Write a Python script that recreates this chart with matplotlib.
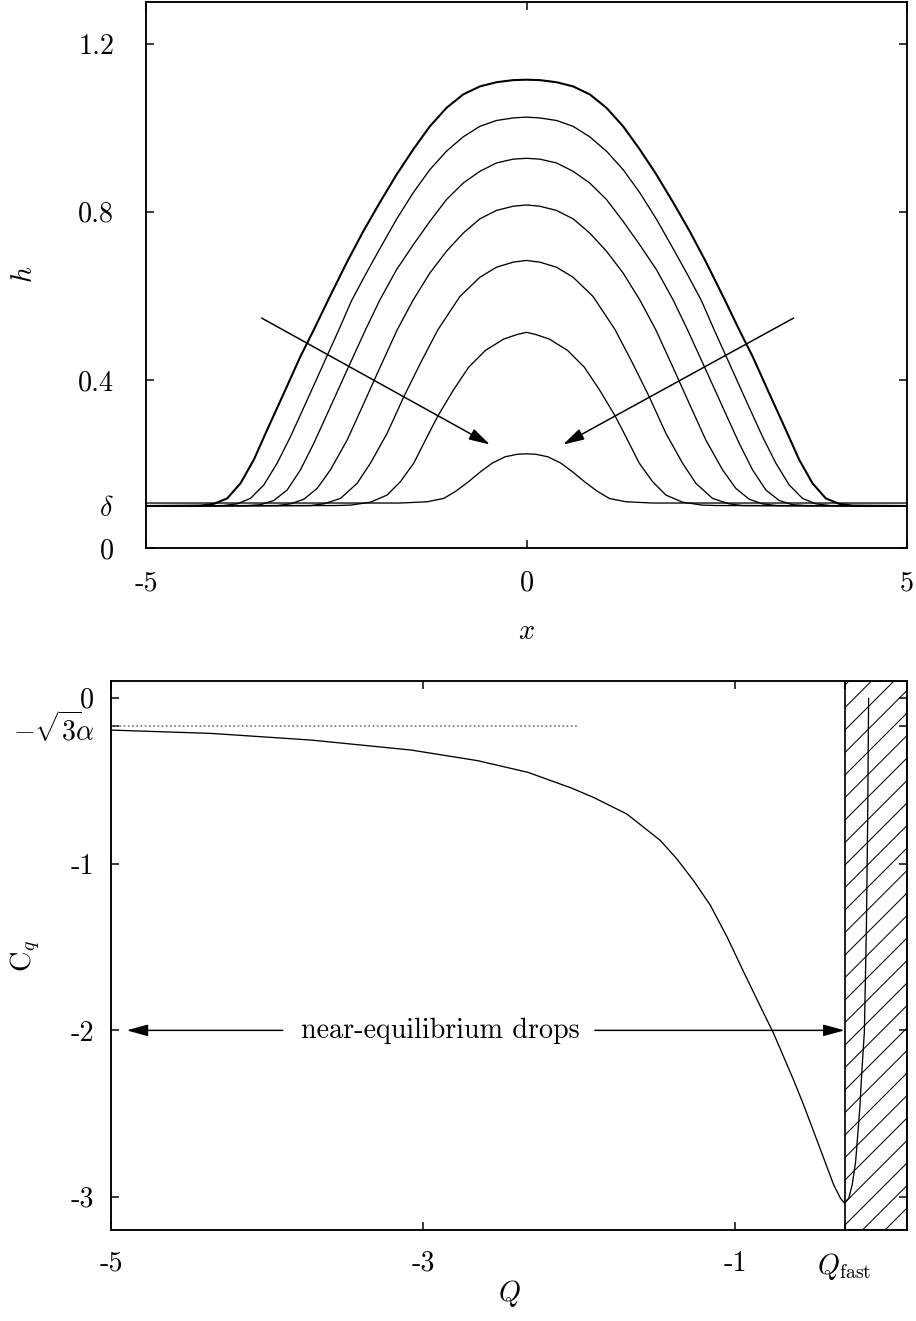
import matplotlib
matplotlib.use("Agg")
import matplotlib.pyplot as plt
import numpy as np

plt.rcParams['font.family'] = ['cmr10', 'DejaVu Serif']
plt.rcParams['mathtext.fontset'] = 'cm'
plt.rcParams['axes.unicode_minus'] = False
plt.rcParams['hatch.linewidth'] = 0.55
plt.rcParams['axes.formatter.use_mathtext'] = True

# ---------------- top panel data: left halves of symmetric drop profiles ----
c1_x = [-5.0, -4.284, -4.109, -3.933, -3.758, -3.583, -3.408, -3.189, -2.970, -2.795, -2.606,
        -2.365, -2.146, -1.927, -1.708, -1.489, -1.270, -1.051, -0.832, -0.613, -0.394, -0.175, 0.0]
c1_h = [0.100, 0.101, 0.105, 0.118, 0.154, 0.210, 0.281, 0.368, 0.456, 0.519, 0.590,
        0.678, 0.753, 0.822, 0.888, 0.948, 1.003, 1.047, 1.079, 1.098, 1.108, 1.113, 1.114]
c2_x = [-5.0, -3.990, -3.802, -3.627, -3.452, -3.276, -3.101, -2.882, -2.663, -2.466, -2.300,
        -2.102, -1.927, -1.708, -1.489, -1.270, -1.051, -0.832, -0.613, -0.394, -0.175, 0.0]
c2_h = [0.100, 0.101, 0.105, 0.118, 0.150, 0.202, 0.265, 0.352, 0.440, 0.519, 0.588,
        0.655, 0.712, 0.782, 0.845, 0.900, 0.944, 0.978, 1.003, 1.017, 1.023, 1.025]
c3_x = [-5.0, -3.670, -3.495, -3.320, -3.145, -2.970, -2.795, -2.576, -2.356, -2.116,
        -1.927, -1.708, -1.489, -1.270, -1.051, -0.832, -0.613, -0.394, -0.175, 0.0]
c3_h = [0.100, 0.101, 0.103, 0.113, 0.138, 0.186, 0.249, 0.336, 0.424, 0.519,
        0.590, 0.662, 0.721, 0.777, 0.829, 0.868, 0.896, 0.916, 0.925, 0.927]
c4_x = [-5.0, -3.280, -3.101, -2.926, -2.750, -2.576, -2.356, -2.138, -1.919, -1.699,
        -1.489, -1.270, -1.051, -0.832, -0.613, -0.394, -0.175, 0.0]
c4_h = [0.100, 0.101, 0.105, 0.116, 0.142, 0.186, 0.257, 0.344, 0.432, 0.519,
        0.590, 0.654, 0.706, 0.749, 0.783, 0.803, 0.813, 0.816]
c5_x = [-5.0, -2.840, -2.663, -2.444, -2.225, -2.050, -1.831, -1.612, -1.393, -1.165,
        -0.876, -0.613, -0.394, -0.175, 0.0]
c5_h = [0.100, 0.101, 0.105, 0.118, 0.154, 0.202, 0.273, 0.360, 0.440, 0.519,
        0.598, 0.644, 0.668, 0.680, 0.684]
c6_x = [-5.0, -2.500, -2.313, -2.050, -1.831, -1.656, -1.481, -1.305, -1.165, -0.960,
        -0.760, -0.540, -0.300, -0.120, 0.0]
c6_h = [0.100, 0.101, 0.102, 0.109, 0.126, 0.158, 0.202, 0.265, 0.314, 0.376,
        0.430, 0.470, 0.497, 0.508, 0.513]
c7_x = [-5.0, -2.0, -1.656, -1.305, -1.087, -0.93, -0.76, -0.60, -0.45, -0.28, -0.12, 0.0]
c7_h = [0.107, 0.107, 0.107, 0.110, 0.118, 0.135, 0.158, 0.182, 0.202, 0.217, 0.223, 0.224]

top_curves = [(c1_x, c1_h), (c2_x, c2_h), (c3_x, c3_h), (c4_x, c4_h),
              (c5_x, c5_h), (c6_x, c6_h), (c7_x, c7_h)]
top_widths = [1.1, 0.7, 0.7, 0.7, 0.7, 0.7, 0.7]

top_xticks = [-5, 0, 5]
top_xticklabels = ['-5', '0', '5']
delta = 0.1
top_yticks = [0, delta, 0.4, 0.8, 1.2]
top_yticklabels = ['0', r'$\delta$', '0.4', '0.8', '1.2']

# ---------------- bottom panel data ----------------
Q = [-5.0, -4.359, -3.718, -3.077, -2.650, -2.329, -2.051, -1.908, -1.694, -1.481,
     -1.374, -1.267, -1.160, -1.053, -0.947, -0.840, -0.754, -0.626, -0.562, -0.498,
     -0.434, -0.370, -0.327, -0.301, -0.273, -0.251, -0.229, -0.214, -0.201, -0.192,
     -0.173, -0.160, -0.152, -0.146]
Cq = [-0.195, -0.215, -0.255, -0.315, -0.379, -0.449, -0.543, -0.600, -0.700, -0.858,
      -0.970, -1.101, -1.248, -1.438, -1.648, -1.855, -2.02, -2.30, -2.449, -2.608,
      -2.768, -2.928, -3.008, -3.038, -3.008, -2.928, -2.788, -2.608, -2.449, -2.289,
      -2.006, -1.374, -0.742, -0.005]
alpha = 0.1
asym = -np.sqrt(3) * alpha
Q_fast = -0.3
bot_xticks = [-5, -3, -1, Q_fast]
bot_xticklabels = ['-5', '-3', '-1', r'$Q_{\rm fast}$']
bot_yticks = [0, asym, -1, -2, -3]
bot_yticklabels = ['0', r'$-\sqrt{3}\!\alpha$', '-1', '-2', '-3']

DPI = 135
fig = plt.figure(figsize=(916 / DPI, 1321 / DPI), dpi=DPI)
FS = 15

def style(ax):
    for s in ax.spines.values():
        s.set_linewidth(1.0)
    ax.tick_params(direction='in', length=4.3, width=0.8, top=True, right=True,
                   labelsize=FS)

# ---- top axes ----
ax1 = fig.add_axes([146 / 916, 1 - 548 / 1321, 761 / 916, 546.5 / 1321])
for (xs, hs), lw in zip(top_curves, top_widths):
    xs = np.asarray(xs); hs = np.asarray(hs)
    X = np.concatenate([xs, -xs[::-1][1:]])
    H = np.concatenate([hs, hs[::-1][1:]])
    ax1.plot(X, H, color='black', lw=lw, solid_joinstyle='round')
ax1.set_xlim(-5, 5)
ax1.set_ylim(0, 1.3)
ax1.set_xticks(top_xticks)
ax1.set_xticklabels(top_xticklabels)
ax1.set_yticks(top_yticks)
ax1.set_yticklabels(top_yticklabels)
style(ax1)
ax1.tick_params(axis='y', pad=17)
ax1.tick_params(axis='x', pad=12)
ax1.set_xlabel(r'$x$', fontsize=FS)
ax1.xaxis.set_label_coords(0.5, -0.130)
ax1.set_ylabel(r'$h$', fontsize=FS)
ax1.yaxis.set_label_coords(-0.142, 0.5)
aprops = dict(arrowstyle='-|>,head_length=0.8,head_width=0.22', color='black',
              lw=0.8, mutation_scale=12, shrinkA=0, shrinkB=0)
ax1.annotate('', xy=(-0.48, 0.246), xytext=(-3.48, 0.547), arrowprops=aprops)
ax1.annotate('', xy=(0.48, 0.246), xytext=(3.51, 0.547), arrowprops=aprops)

# ---- bottom axes ----
ax2 = fig.add_axes([111 / 916, 1 - 1230 / 1321, 796 / 916, 549 / 1321])
ax2.axvspan(Q_fast, 0.1, facecolor='white', edgecolor='black', hatch='//',
            lw=0.9, zorder=1)
ax2.plot(Q, Cq, color='black', lw=0.7, zorder=3, solid_joinstyle='round')
ax2.plot([-5, -2], [asym, asym], color='#777777', lw=0.9, ls=(0, (1, 1.5)), zorder=2)
ax2.set_xlim(-5, 0.1)
ax2.set_ylim(-3.2, 0.1)
ax2.set_xticks(bot_xticks)
ax2.set_xticklabels(bot_xticklabels)
ax2.set_yticks(bot_yticks)
ax2.set_yticklabels(bot_yticklabels)
style(ax2)
ax2.tick_params(axis='y', pad=9)
ax2.tick_params(axis='x', pad=11)
ax2.set_xlabel(r'$Q$', fontsize=FS)
ax2.xaxis.set_label_coords(0.5, -0.087)
ax2.set_ylabel(r'C$_q$', fontsize=FS)
ax2.yaxis.set_label_coords(-0.087, 0.5)
ax2.annotate('', xy=(-4.9, -2), xytext=(-3.9, -2), arrowprops=aprops)
ax2.annotate('', xy=(Q_fast, -2), xytext=(-1.9, -2), arrowprops=aprops)
ax2.text(-2.89, -2, 'near-equilibrium drops', ha='center', va='center', fontsize=FS)

fig.savefig('out.png', dpi=DPI)
